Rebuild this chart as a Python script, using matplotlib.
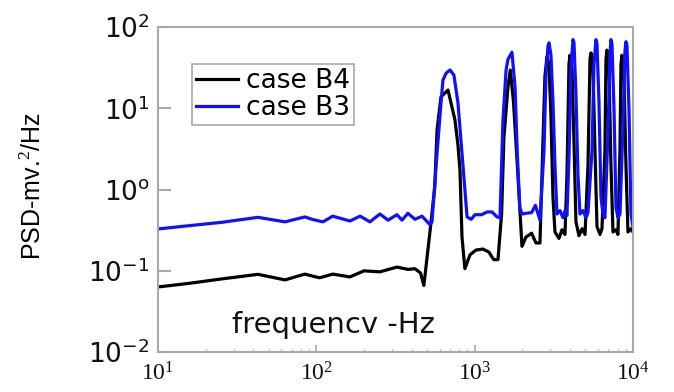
import matplotlib
matplotlib.use("Agg")
import matplotlib.pyplot as plt
from matplotlib.ticker import FixedLocator, FixedFormatter, NullLocator

plt.rcParams['mathtext.fontset'] = 'custom'
plt.rcParams['mathtext.rm'] = 'Liberation Serif'
plt.rcParams['mathtext.sf'] = 'DejaVu Sans'

# ---- data ----
freq_b3 = [10, 15.5, 25.3, 42.8, 63.4, 84.7, 94, 110, 127, 163, 189, 218, 252, 284, 323, 348, 379, 420, 465, 522,
           538, 579, 613, 631, 660, 699, 740, 785, 832, 896,
           950, 1005, 1105, 1200, 1287, 1385, 1446,
           1510, 1580, 1624, 1721, 1800, 1860, 1930, 1991,
           2110, 2290, 2420, 2586,
           2742, 2822, 2905, 2949, 3035, 3125, 3217, 3312,
           3460, 3614, 3721, 3830,
           3944, 4059, 4179, 4240, 4365, 4495, 4628,
           4835, 5050, 5200,
           5511, 5674, 5841, 5927, 6101, 6281,
           6467, 6655,
           6953, 7158, 7263, 7370, 7590, 7812,
           8040, 8279,
           8648, 8903, 9033, 9166, 9435, 9716, 10000]
psd_b3 = [0.327, 0.358, 0.395, 0.455, 0.40, 0.46, 0.43, 0.40, 0.47, 0.41, 0.47, 0.40, 0.50, 0.42, 0.49, 0.42, 0.51, 0.43, 0.47, 0.37,
          0.40, 2.8, 11.6, 22.3, 27, 29.6, 25.6, 11.6, 2.8, 0.46,
          0.43, 0.49, 0.49, 0.53, 0.53, 0.46, 0.45,
          7.2, 29.6, 40, 49, 18.3, 2.8, 0.6, 0.50,
          0.51, 0.52, 0.64, 0.42,
          3.0, 25, 58, 64, 45, 12, 2.0, 0.5,
          0.55, 0.45, 0.55, 0.48,
          2.5, 30, 70, 65, 15, 1.5, 0.5,
          0.55, 0.45, 0.52,
          3.0, 35, 70, 62, 12, 0.8,
          0.5, 0.45,
          5.0, 45, 70, 62, 10, 0.6,
          0.45, 0.5,
          6.0, 50, 66, 60, 10, 0.5, 0.35]

freq_b4 = [10, 15.5, 25.3, 42.8, 63.4, 84.7, 98, 105, 127, 163, 200, 252, 323, 379, 420, 455, 478,
           522, 560, 579, 613, 679, 751, 785, 808, 832, 868, 935, 1020, 1130, 1230, 1320, 1404,
           1480, 1531, 1624, 1680, 1760, 1860, 1991, 2110, 2290, 2440, 2586,
           2663, 2780, 2864, 2949, 3035, 3125, 3217, 3410, 3560, 3721,
           3830, 3944, 4000, 4120, 4240, 4365, 4560, 4770, 4980,
           5200, 5353, 5431, 5590, 5757, 5927, 6190, 6373,
           6655, 6755, 6850, 7055, 7263, 7478, 7812, 8040,
           8279, 8400, 8523, 8774, 9033, 9300, 9716, 10000]
psd_b4 = [0.0632, 0.0698, 0.0794, 0.0904, 0.0772, 0.091, 0.0845, 0.082, 0.091, 0.084, 0.0998, 0.097, 0.111, 0.104, 0.106, 0.094, 0.066,
          0.3, 1.07, 5.4, 13.8, 16.8, 7.2, 3.5, 1.74, 0.26, 0.106, 0.157, 0.18, 0.185, 0.17, 0.137, 0.137,
          0.5, 4.4, 18.3, 29.6, 12, 2.0, 0.2, 0.26, 0.29, 0.22, 0.22,
          1.5, 25, 43, 35, 8, 0.8, 0.3, 0.25, 0.32, 0.28,
          1.5, 35, 45, 30, 4, 0.4, 0.27, 0.33, 0.28,
          2.0, 40, 48, 30, 3, 0.35, 0.28, 0.33,
          3.0, 40, 52, 30, 2, 0.3, 0.32, 0.28,
          3.0, 35, 45, 25, 2, 0.3, 0.33, 0.30]

series_labels = ["case B4", "case B3"]
yticks = [1e-2, 1e-1, 1e0, 1e1, 1e2]
ytick_labels = [r"$\mathsf{10^{-2}}$", r"$\mathsf{10^{-1}}$", r"$\mathsf{10^{o}}$", r"$\mathsf{10^{1}}$", r"$\mathsf{10^{2}}$"]
xticks = [1e1, 1e2, 1e3, 1e4]
xtick_labels = [r"$\mathrm{10^{1}}$", r"$\mathrm{10^{2}}$", r"$\mathrm{10^{3}}$", r"$\mathrm{10^{4}}$"]

# ---- figure ----
fig = plt.figure(figsize=(6.74, 3.92), dpi=100)
ax = fig.add_axes([0.2344, 0.102, 0.7047, 0.829])

ax.plot(freq_b4, psd_b4, color='black', lw=2.3, label=series_labels[0])
ax.plot(freq_b3, psd_b3, color='#1010ff', lw=2.3, label=series_labels[1])

ax.set_xscale('log')
ax.set_yscale('log')
ax.set_xlim(10, 1e4)
ax.set_ylim(1e-2, 1e2)

ax.yaxis.set_major_locator(FixedLocator(yticks))
ax.yaxis.set_major_formatter(FixedFormatter(ytick_labels))
ax.yaxis.set_minor_locator(NullLocator())
ax.xaxis.set_major_locator(FixedLocator(xticks))
ax.xaxis.set_major_formatter(FixedFormatter(xtick_labels))

gray = '#a8a8a8'
for s in ax.spines.values():
    s.set_color(gray)
    s.set_linewidth(1.5)
ax.tick_params(axis='y', which='major', direction='in', length=9, width=1.5, color=gray,
               labelsize=19, pad=6, labelcolor='#111111')
ax.tick_params(axis='x', which='major', direction='in', length=5, width=1.2, color=gray,
               labelsize=17, pad=7, labelcolor='#111111')
ax.tick_params(axis='x', which='minor', direction='in', length=2, width=1, color=gray)

ax.set_ylabel(r"PSD-mv.$^{2}$/Hz", fontsize=18, family='Liberation Sans')
ax.yaxis.set_label_coords(-0.236, 0.51)

ax.text(0.369, 0.083, "frequencv -Hz", transform=ax.transAxes, ha='center', va='center',
        fontsize=21, family='DejaVu Sans', color='#111111')

leg = ax.legend(loc='upper left', bbox_to_anchor=(0.0716, 0.886), borderaxespad=0,
                fancybox=False, edgecolor=gray, framealpha=1,
                prop={'family': 'DejaVu Sans', 'size': 19},
                handlelength=1.6, handletextpad=0.3, labelspacing=0.05, borderpad=0.15)
leg.get_frame().set_linewidth(1.2)

fig.savefig("out.png", dpi=100)
